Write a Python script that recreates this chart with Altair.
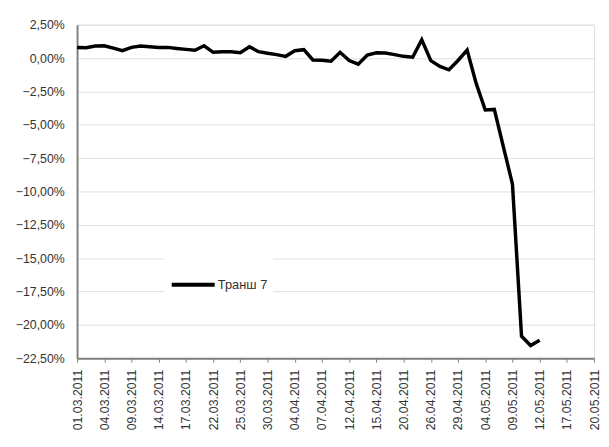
import altair as alt
import pandas as pd
import json

# tick labels (every 3rd trading day)
tick_labels = ["01.03.2011", "04.03.2011", "09.03.2011", "14.03.2011", "17.03.2011",
               "22.03.2011", "25.03.2011", "30.03.2011", "04.04.2011", "07.04.2011",
               "12.04.2011", "15.04.2011", "20.04.2011", "26.04.2011", "29.04.2011",
               "04.05.2011", "09.05.2011", "12.05.2011", "17.05.2011", "20.05.2011"]

series_name = "Транш 7"
values = [0.80, 0.78, 0.90, 0.92, 0.75, 0.55, 0.80, 0.90, 0.85, 0.80,
          0.80, 0.72, 0.65, 0.58, 0.92, 0.43, 0.47, 0.47, 0.40, 0.85,
          0.48, 0.36, 0.26, 0.13, 0.55, 0.63, -0.14, -0.17, -0.24, 0.43,
          -0.19, -0.46, 0.23, 0.40, 0.38, 0.26, 0.13, 0.06, 1.37, -0.19,
          -0.63, -0.88, -0.18, 0.60, -1.90, -3.89, -3.85, -6.65, -9.45, -20.85,
          -21.55, -21.15]

df = pd.DataFrame({"idx": list(range(len(values))), "v": values, "s": series_name})

n_ticks = len(tick_labels)
x_max = (n_ticks - 1) * 3
label_arr = json.dumps(tick_labels, ensure_ascii=False)

y_ticks = [2.5 - 2.5 * k for k in range(11)]

FONT = "Liberation Sans"

chart = alt.Chart(df).mark_line(strokeWidth=3.5, strokeJoin="miter").encode(
    x=alt.X("idx:Q",
            scale=alt.Scale(domain=[0, x_max], nice=False, zero=False),
            axis=alt.Axis(values=list(range(0, x_max + 1, 3)),
                          labelExpr=f"{label_arr}[round(datum.value/3)]",
                          labelAngle=-90, labelAlign="right", labelBaseline="middle",
                          labelFont=FONT, labelFontSize=12.5, labelColor="#333333",
                          labelPadding=7, tickSize=4, tickColor="#808080", tickWidth=1,
                          domainColor="#808080", domainWidth=2, grid=False, title=None,
                          labelOverlap=False, labelFlush=False)),
    y=alt.Y("v:Q",
            scale=alt.Scale(domain=[-22.5, 2.5], nice=False, zero=False),
            axis=alt.Axis(values=y_ticks,
                          labelExpr="replace(format(datum.value, '.2f'), '.', ',') + '%'",
                          labelFont=FONT, labelFontSize=12.5, labelColor="#333333",
                          labelPadding=13, ticks=False,
                          domainColor="#808080", domainWidth=2,
                          grid=True, gridColor="#dedede", gridWidth=1, title=None,
                          labelOverlap=False, labelFlush=False)),
    color=alt.Color("s:N", scale=alt.Scale(range=["#000000"]),
                    legend=alt.Legend(title=None, orient="none", legendX=88.7, legendY=234.5,
                                      symbolType="stroke", symbolSize=1900, symbolStrokeWidth=4,
                                      labelFont=FONT, labelFontSize=13, labelColor="#333333",
                                      labelOffset=1, fillColor="#ffffff", padding=5,
                                      symbolStrokeColor="#000000")),
).properties(
    width=524, height=338,
    autosize=alt.AutoSizeParams(type="none"),
    padding={"left": 70, "top": 14, "right": 7, "bottom": 85},
).configure_view(stroke="#808080", strokeWidth=2).configure(background="#ffffff")

chart.save("out.html", embed_options={"renderer": "svg", "actions": False})
